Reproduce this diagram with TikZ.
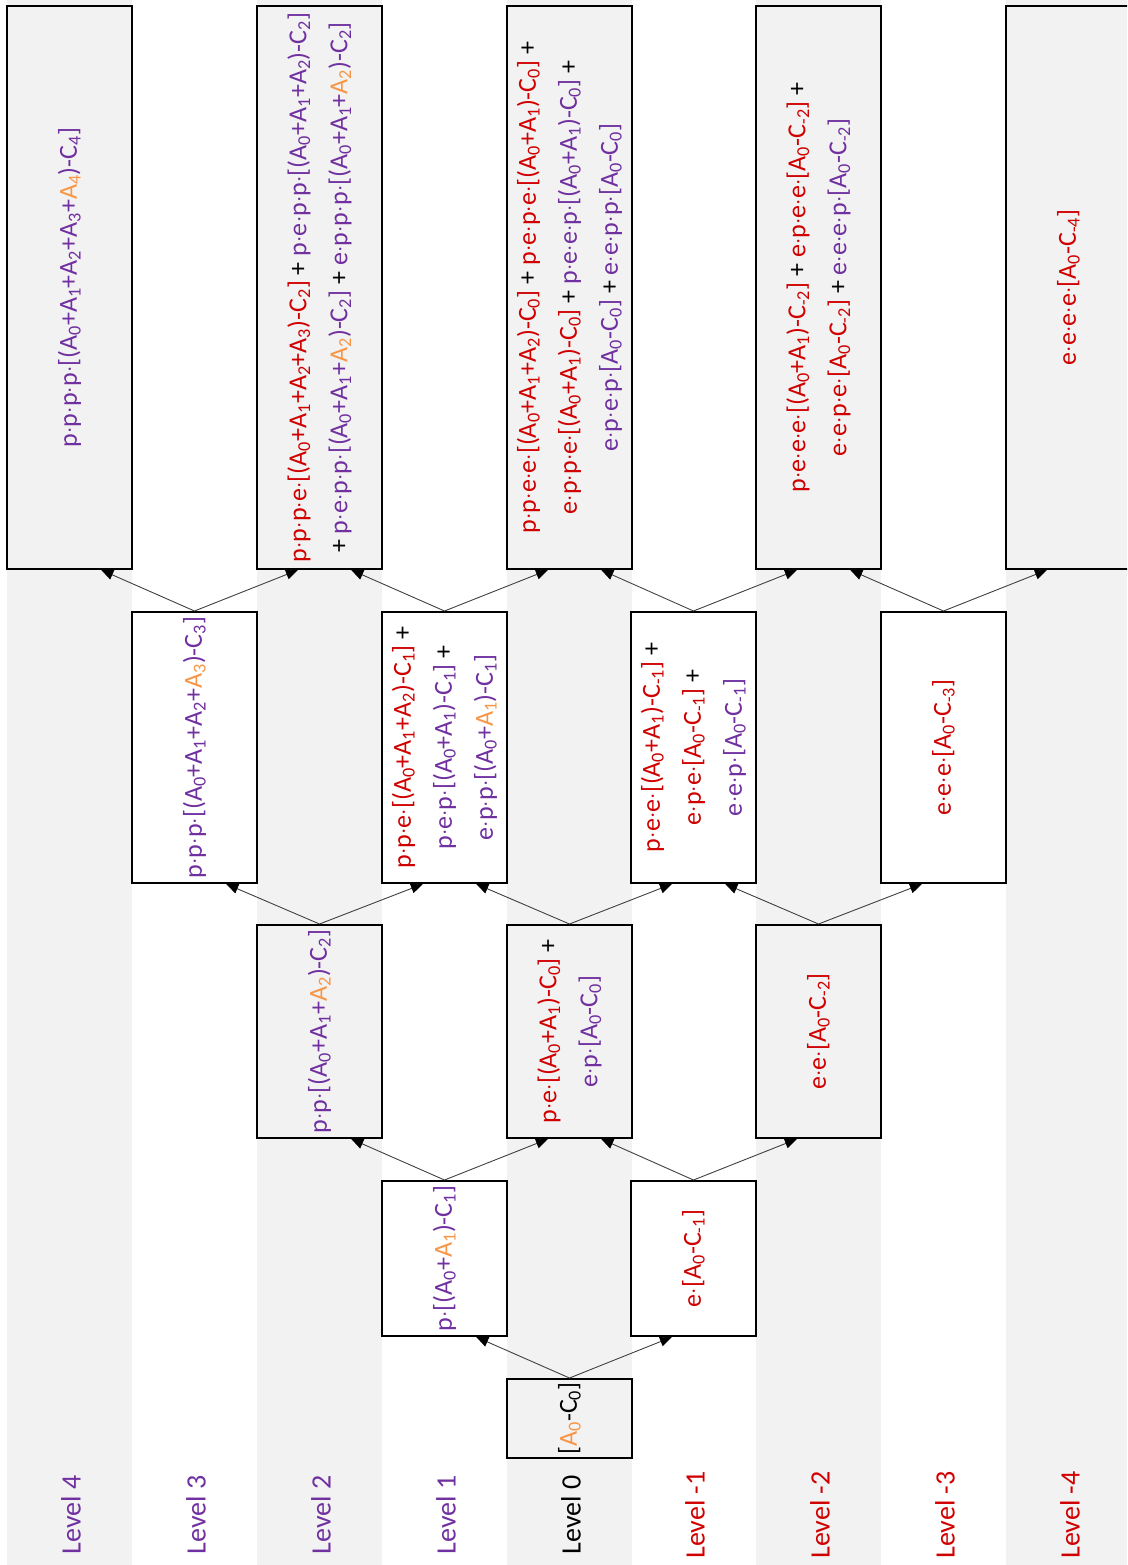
\documentclass[tikz,border=0pt]{standalone}
\usepackage{fontspec}
\usepackage{newunicodechar}
\setmainfont{Carlito}
\usetikzlibrary{arrows.meta,calc}
\definecolor{lvpurple}{HTML}{7030A0}
\definecolor{lvred}{HTML}{D00000}
\definecolor{lvorange}{HTML}{F79646}
\definecolor{stripegray}{HTML}{F2F2F2}
\newcommand\dotglyph{\char"00B7\relax}
\newcommand\smalldot{{\ooalign{\hphantom{\dotglyph}\cr\hfil\raisebox{0.09em}{\fontsize{17}{17}\selectfont\dotglyph}\hfil\cr}}}
\newunicodechar{·}{\smalldot}
\newcommand\Ai[1]{A\textsubscript{#1}}
\newcommand\Ci[1]{C\textsubscript{#1}}
\newcommand\cpur[1]{\textcolor{lvpurple}{#1}}
\newcommand\cred[1]{\textcolor{lvred}{#1}}
\newcommand\corg[1]{\textcolor{lvorange}{#1}}
\newcommand\conn[3]{%
  \draw[connector] (#1.north) -- ($(#2.south west)!0.75!(#2.south east)$);
  \draw[connector] (#1.north) -- ($(#3.south west)!0.33!(#3.south east)$);}
\tikzset{
  levelbox/.style={draw=black, line width=2pt, inner sep=0pt, minimum width=125pt},
  graybox/.style={levelbox, fill=stripegray},
  whitebox/.style={levelbox, fill=white},
  h1/.style={minimum height=563pt},
  h2/.style={minimum height=271pt},
  h3/.style={minimum height=213pt},
  h4/.style={minimum height=155pt},
  h5/.style={minimum height=79pt},
  formula/.style={rotate=90, align=center, inner sep=0pt, font=\fontsize{26}{41}\selectfont},
  levellabel/.style={rotate=90, inner sep=0pt, font=\fontsize{28}{32}\selectfont},
  connector/.style={draw=black!75, line width=0.9pt, -{Triangle[length=12pt,width=10pt,color=black]}}
}
\begin{document}
\begin{tikzpicture}[x=1pt,y=-1pt]
\useasboundingbox (0,0) rectangle (1127,1565);
\clip (0,0) rectangle (1127,1565);
% stripes
\fill[stripegray] (7,0) rectangle (132,1565);
\fill[stripegray] (257,0) rectangle (382,1565);
\fill[stripegray] (507,0) rectangle (632,1565);
\fill[stripegray] (756,0) rectangle (881,1565);
\fill[stripegray] (1006,0) rectangle (1127,1565);

% row 1
\node[graybox,h1] (r1p4) at (69.5,287.5) {};
\node[graybox,h1] (r1p2) at (319.5,287.5) {};
\node[graybox,h1] (r1p0) at (569.5,287.5) {};
\node[graybox,h1] (r1m2) at (818.5,287.5) {};
\node[graybox,h1] (r1m4) at (1068.5,287.5) {};
% row 2
\node[whitebox,h2] (r2p3) at (194.5,747.5) {};
\node[whitebox,h2] (r2p1) at (444.5,747.5) {};
\node[whitebox,h2] (r2m1) at (693.5,747.5) {};
\node[whitebox,h2] (r2m3) at (943.5,747.5) {};
% row 3
\node[graybox,h3] (r3p2) at (319.5,1031.5) {};
\node[graybox,h3] (r3p0) at (569.5,1031.5) {};
\node[graybox,h3] (r3m2) at (818.5,1031.5) {};
% row 4
\node[whitebox,h4] (r4p1) at (444.5,1258.5) {};
\node[whitebox,h4] (r4m1) at (693.5,1258.5) {};
% row 5
\node[graybox,h5] (r5p0) at (569.5,1418.5) {};

% texts row 1
\node[formula] (t1p4) at (r1p4) {\cpur{p·p·p·p·[(\Ai0+\Ai1+\Ai2+\Ai3+\corg{\Ai4})-\Ci4]}};
\node[formula] (t1p2) at (r1p2) {\cred{p·p·p·e·[(\Ai0+\Ai1+\Ai2+\Ai3)-\Ci2]} + \cpur{p·e·p·p·[(\Ai0+\Ai1+\Ai2)-\Ci2]}\\
  + \cpur{p·e·p·p·[(\Ai0+\Ai1+\corg{\Ai2})-\Ci2]} + \cpur{e·p·p·p·[(\Ai0+\Ai1+\corg{\Ai2})-\Ci2]}};
\node[formula] (t1p0) at (r1p0) {\cred{p·p·e·e·[(\Ai0+\Ai1+\Ai2)-\Ci0]} + \cred{p·e·p·e·[(\Ai0+\Ai1)-\Ci0]} +\\
  \cred{e·p·p·e·[(\Ai0+\Ai1)-\Ci0]} + \cpur{p·e·e·p·[(\Ai0+\Ai1)-\Ci0]} +\\
  \cpur{e·p·e·p·[\Ai0-\Ci0]} + \cpur{e·e·p·p·[\Ai0-\Ci0]}};
\node[formula] (t1m2) at (r1m2) {\cred{p·e·e·e·[(\Ai0+\Ai1)-\Ci{-2}]} + \cred{e·p·e·e·[\Ai0-\Ci{-2}]} +\\
  \cred{e·e·p·e·[\Ai0-\Ci{-2}]} + \cpur{e·e·e·p·[\Ai0-\Ci{-2}]}};
\node[formula] (t1m4) at (r1m4) {\cred{e·e·e·e·[\Ai0-\Ci{-4}]}};
% texts row 2
\node[formula] (t2p3) at (r2p3) {\cpur{p·p·p·[(\Ai0+\Ai1+\Ai2+\corg{\Ai3})-\Ci3]}};
\node[formula] (t2p1) at (r2p1) {\cred{p·p·e·[(\Ai0+\Ai1+\Ai2)-\Ci1]} +\\
  \cpur{p·e·p·[(\Ai0+\Ai1)-\Ci1]} +\\
  \cpur{e·p·p·[(\Ai0+\corg{\Ai1})-\Ci1]}};
\node[formula] (t2m1) at (r2m1) {\cred{p·e·e·[(\Ai0+\Ai1)-\Ci{-1}]} +\\
  \cred{e·p·e·[\Ai0-\Ci{-1}]} +\\
  \cpur{e·e·p·[\Ai0-\Ci{-1}]}};
\node[formula] (t2m3) at (r2m3) {\cred{e·e·e·[\Ai0-\Ci{-3}]}};
% texts row 3
\node[formula] (t3p2) at (r3p2) {\cpur{p·p·[(\Ai0+\Ai1+\corg{\Ai2})-\Ci2]}};
\node[formula] (t3p0) at (r3p0) {\cred{p·e·[(\Ai0+\Ai1)-\Ci0]} +\\ \cpur{e·p·[\Ai0-\Ci0]}};
\node[formula] (t3m2) at (r3m2) {\cred{e·e·[\Ai0-\Ci{-2}]}};
% texts row 4
\node[formula] (t4p1) at (r4p1) {\cpur{p·[(\Ai0+\corg{\Ai1})-\Ci1]}};
\node[formula] (t4m1) at (r4m1) {\cred{e·[\Ai0-\Ci{-1}]}};
% text row 5
\node[formula] (t5p0) at (r5p0) {[\corg{\Ai0}-\Ci0]};

% connectors
\conn{r5p0}{r4p1}{r4m1}
\conn{r4p1}{r3p2}{r3p0}
\conn{r4m1}{r3p0}{r3m2}
\conn{r3p2}{r2p3}{r2p1}
\conn{r3p0}{r2p1}{r2m1}
\conn{r3m2}{r2m1}{r2m3}
\conn{r2p3}{r1p4}{r1p2}
\conn{r2p1}{r1p2}{r1p0}
\conn{r2m1}{r1p0}{r1m2}
\conn{r2m3}{r1m2}{r1m4}

% level labels
\node[levellabel, text=lvpurple] (lab4) at (71,1515) {Level 4};
\node[levellabel, text=lvpurple] (lab3) at (196,1515) {Level 3};
\node[levellabel, text=lvpurple] (lab2) at (321,1515) {Level 2};
\node[levellabel, text=lvpurple] (lab1) at (446,1515) {Level 1};
\node[levellabel, text=black] (lab0) at (571,1515) {Level 0};
\node[levellabel, text=lvred] (labm1) at (695,1515) {Level -1};
\node[levellabel, text=lvred] (labm2) at (820,1515) {Level -2};
\node[levellabel, text=lvred] (labm3) at (945,1515) {Level -3};
\node[levellabel, text=lvred] (labm4) at (1070,1515) {Level -4};
\end{tikzpicture}
\end{document}
